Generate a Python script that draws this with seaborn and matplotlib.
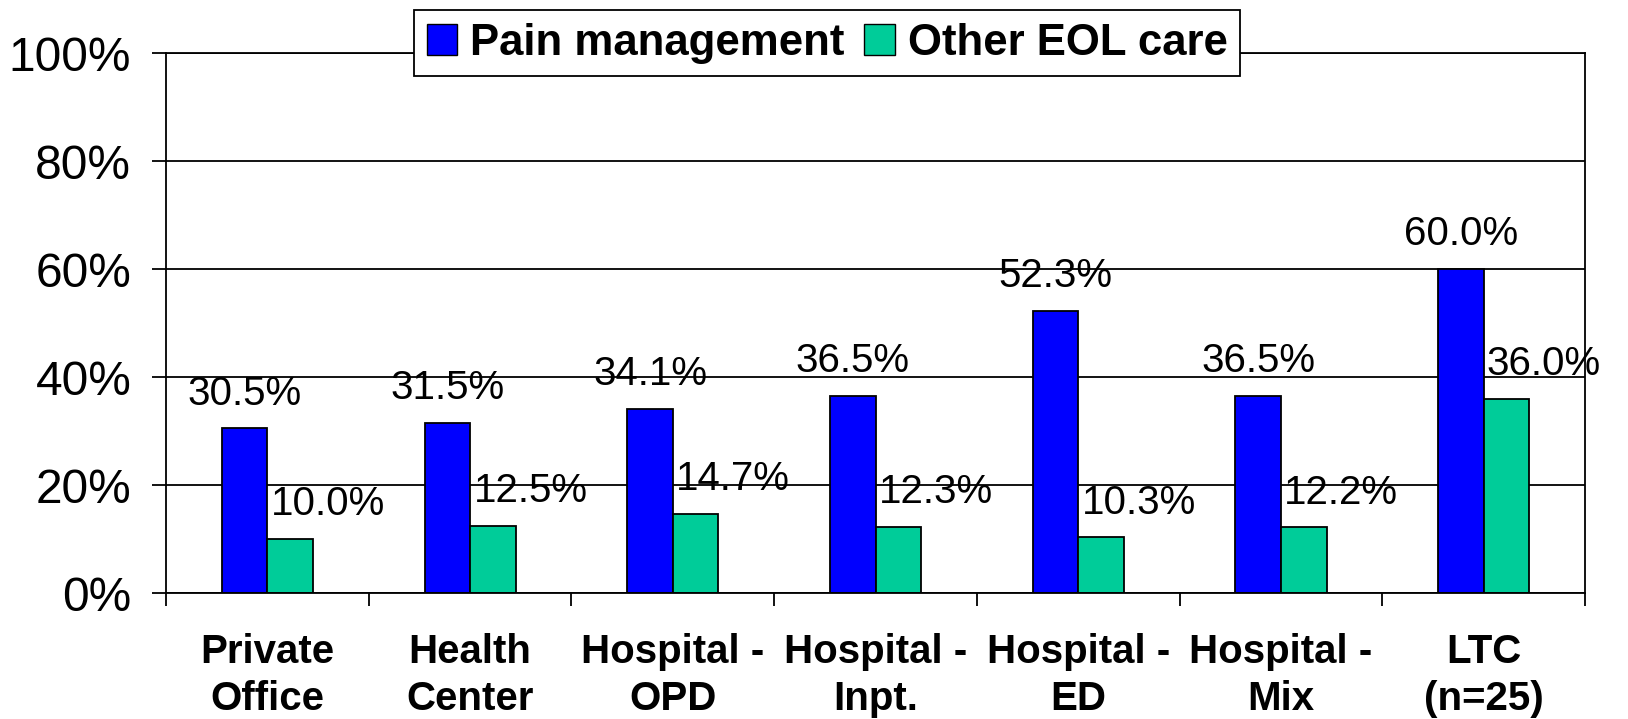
import numpy as np
import pandas as pd
import matplotlib
matplotlib.use('Agg')
import matplotlib.pyplot as plt
from matplotlib.ticker import FixedLocator, FuncFormatter
import seaborn as sns

# data
settings = ["Private\nOffice", "Health\nCenter", "Hospital -\nOPD", "Hospital -\nInpt.",
            "Hospital -\nED", "Hospital -\nMix", "LTC\n(n=25)"]
pain_mgmt = [30.5, 31.5, 34.1, 36.5, 52.3, 36.5, 60.0]
other_eol = [10.0, 12.5, 14.7, 12.3, 10.3, 12.2, 36.0]
series_names = ['Pain management', 'Other EOL care']
y_ticks = [0, 20, 40, 60, 80, 100]

COLORS = ['#0000FF', '#00CC99']

df = pd.DataFrame({
    'setting': settings * 2,
    'series': [series_names[0]] * len(settings) + [series_names[1]] * len(settings),
    'value': pain_mgmt + other_eol,
})

sns.set_style('white')
plt.rcParams['font.family'] = ['Liberation Sans', 'DejaVu Sans']
plt.rcParams['text.color'] = 'black'
plt.rcParams['xtick.color'] = 'black'
plt.rcParams['ytick.color'] = 'black'
plt.rcParams['axes.labelcolor'] = 'black'

fig = plt.figure(figsize=(16.28, 7.19), dpi=100)
ax = fig.add_axes([0.102, 0.1752, 0.8716, 0.751])

sns.barplot(data=df, x='setting', y='value', hue='series', order=settings,
            hue_order=series_names, palette=COLORS, saturation=1,
            width=0.45, gap=0, errorbar=None,
            edgecolor='black', linewidth=1.3, ax=ax)

# value labels, Excel style: blue centred, green shifted right
for container, vals, dx in zip(ax.containers, [pain_mgmt, other_eol], [0, 27]):
    for bar, v in zip(container, vals):
        ax.annotate(f'{v:.1f}%', (bar.get_x() + bar.get_width() / 2, bar.get_height()),
                    xytext=(dx, 17), textcoords='offset points',
                    ha='center', va='baseline', fontsize=29, color='black')

ax.set_ylim(0, 100)
ax.set_yticks(y_ticks)
ax.yaxis.set_major_formatter(FuncFormatter(lambda v, p: f'{v:.0f}%'))
ax.yaxis.grid(True, color='black', linewidth=1.3)
ax.set_axisbelow(True)
ax.set_xlim(-0.5, len(settings) - 0.5)
ax.set_xlabel('')
ax.set_ylabel('')

for sp in ax.spines.values():
    sp.set_visible(True)
    sp.set_color('black')
    sp.set_linewidth(1.3)

ax.tick_params(axis='y', which='major', left=True, direction='out', length=10,
               width=1.3, color='black', pad=15, labelsize=34.5, labelcolor='black')
ax.tick_params(axis='x', which='major', bottom=True, length=0, pad=29, labelsize=29,
               labelcolor='black')
ax.xaxis.set_minor_locator(FixedLocator(np.arange(-0.5, len(settings), 1)))
ax.tick_params(axis='x', which='minor', bottom=True, direction='out', length=9.5,
               width=1.3, color='black')
for lbl in ax.get_xticklabels():
    lbl.set_fontweight('bold')
    lbl.set_multialignment('center')
    lbl.set_linespacing(1.3)

handles, labels = ax.get_legend_handles_labels()
leg = ax.legend(handles, labels, loc='upper center', bbox_to_anchor=(0.466, 1.079),
                borderaxespad=0, ncol=2, frameon=True, fancybox=False, edgecolor='black',
                framealpha=1, prop={'weight': 'bold', 'size': 31.5},
                handlelength=0.7, handleheight=0.7, handletextpad=0.3,
                columnspacing=0.45, borderpad=0.28)
leg.get_frame().set_linewidth(1.3)
for h in leg.legend_handles:
    h.set_edgecolor('black')
    h.set_linewidth(1)

plt.savefig('out.png', dpi=100)
